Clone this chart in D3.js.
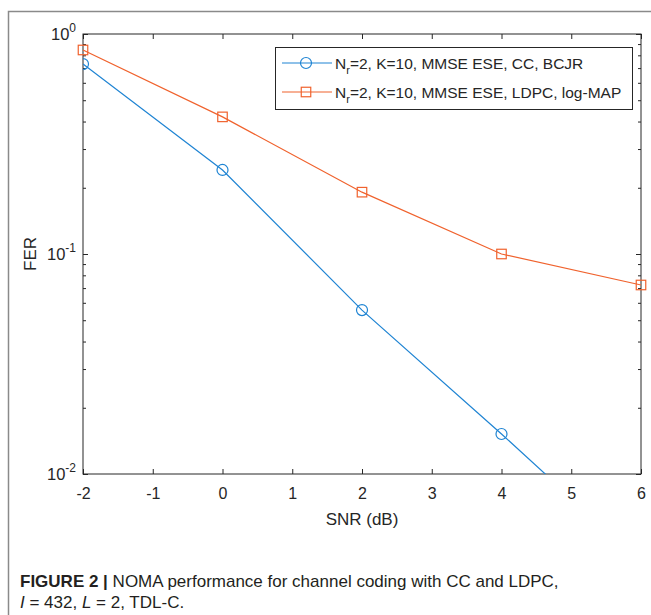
<!DOCTYPE html>
<html>
<head>
<meta charset="utf-8">
<script src="https://cdnjs.cloudflare.com/ajax/libs/d3/7.8.5/d3.min.js"></script>
<style>
  body { margin: 0; background: #fff; }
  svg { display: block; font-family: "Liberation Sans", Arial, sans-serif; }
</style>
</head>
<body>
<div id="chart"></div>
<script>
// data
var snr = [-2, 0, 2, 4, 6];
var ferCC = [0.73, 0.241, 0.0556, 0.0152, 0.004];
var ferLDPC = [0.846, 0.42, 0.191, 0.1, 0.0723];
var xTicks = [-2, -1, 0, 1, 2, 3, 4, 5, 6];
var yTicks = [0.01, 0.1, 1];
var yExp = [-2, -1, 0];
var legendNames = [
  ["N", "r", "=2, K=10, MMSE ESE, CC, BCJR"],
  ["N", "r", "=2, K=10, MMSE ESE, LDPC, log-MAP"]
];
var colors = ["#1f84d3", "#f0622d"];

var W = 651, H = 615;
var svg = d3.select("#chart").append("svg")
    .attr("width", W)
    .attr("height", H);

// outer frame (only top and left edges show)
svg.append("path")
    .attr("d", "M8.5," + H + "V11.5H" + W)
    .attr("fill", "none")
    .attr("stroke", "#8a8a8a")
    .attr("stroke-width", 1.5);

var pL = 83, pR = 641, pT = 34, pB = 474;
var x = d3.scaleLinear().domain([-2, 6]).range([pL, pR]);
var y = d3.scaleLog().domain([0.01, 1]).range([pB, pT]);

var axisColor = "#262626";

// x axes (ticks inward)
var gx = svg.append("g")
    .attr("transform", "translate(0," + pB + ")")
    .call(d3.axisBottom(x).tickValues(xTicks).tickSizeInner(-5).tickSizeOuter(0).tickPadding(14));
var gxTop = svg.append("g")
    .attr("transform", "translate(0," + pT + ")")
    .call(d3.axisTop(x).tickValues(xTicks).tickSizeInner(-5).tickSizeOuter(0).tickFormat(""));

// minor y ticks
var minor = [];
[0.01, 0.1].forEach(function(d) {
  for (var k = 2; k <= 9; k++) minor.push(d * k);
});

var gy = svg.append("g")
    .attr("transform", "translate(" + pL + ",0)")
    .call(d3.axisLeft(y).tickValues(yTicks).tickSizeInner(-5).tickSizeOuter(0).tickFormat(""));
var gyMinor = svg.append("g")
    .attr("transform", "translate(" + pL + ",0)")
    .call(d3.axisLeft(y).tickValues(minor).tickSizeInner(-3).tickSizeOuter(0).tickFormat(""));
var gyR = svg.append("g")
    .attr("transform", "translate(" + pR + ",0)")
    .call(d3.axisRight(y).tickValues(yTicks).tickSizeInner(-5).tickSizeOuter(0).tickFormat(""));
var gyRMinor = svg.append("g")
    .attr("transform", "translate(" + pR + ",0)")
    .call(d3.axisRight(y).tickValues(minor).tickSizeInner(-3).tickSizeOuter(0).tickFormat(""));

svg.selectAll(".domain").remove();
svg.selectAll(".tick line").attr("stroke", axisColor);

gx.attr("font-family", null);
gx.selectAll("text")
    .attr("font-size", 16)
    .attr("fill", axisColor)
    .attr("dy", "0.7em")
    .text(function(d) { return d; });

// y tick labels: 10 with superscript
yTicks.forEach(function(d, i) {
  var t = svg.append("text")
      .attr("x", pL - 7)
      .attr("y", y(d) + 6)
      .attr("text-anchor", "end")
      .attr("font-size", 16.5)
      .attr("fill", axisColor);
  t.append("tspan").text("10");
  t.append("tspan").attr("dy", -8).attr("font-size", 12).text(yExp[i]);
});

// box
svg.append("rect")
    .attr("x", pL).attr("y", pT)
    .attr("width", pR - pL).attr("height", pB - pT)
    .attr("fill", "none")
    .attr("stroke", axisColor)
    .attr("stroke-width", 1);

// axis labels
svg.append("text")
    .attr("x", (pL + pR) / 2)
    .attr("y", 525)
    .attr("text-anchor", "middle")
    .attr("font-size", 17)
    .attr("fill", axisColor)
    .text("SNR (dB)");
svg.append("text")
    .attr("transform", "translate(36," + (pT + pB) / 2 + ") rotate(-90)")
    .attr("text-anchor", "middle")
    .attr("font-size", 17)
    .attr("fill", axisColor)
    .text("FER");

// series
svg.append("clipPath").attr("id", "plot")
  .append("rect")
    .attr("x", pL).attr("y", pT)
    .attr("width", pR - pL).attr("height", pB - pT);

var plot = svg.append("g").attr("clip-path", "url(#plot)");
var line = d3.line()
    .x(function(d) { return x(d[0]); })
    .y(function(d) { return y(d[1]); });

var series = [d3.zip(snr, ferCC), d3.zip(snr, ferLDPC)];

plot.append("path")
    .datum(series[0])
    .attr("d", line)
    .attr("fill", "none")
    .attr("stroke", colors[0])
    .attr("stroke-width", 1.2);
plot.selectAll(".cc")
    .data(series[0].filter(function(d) { return d[1] >= 0.01; }))
    .enter().append("circle")
    .attr("cx", function(d) { return x(d[0]); })
    .attr("cy", function(d) { return y(d[1]); })
    .attr("r", 5.5)
    .attr("fill", "none")
    .attr("stroke", colors[0])
    .attr("stroke-width", 1.2);

var sq = 9.5;
svg.append("path")
    .datum(series[1])
    .attr("d", line)
    .attr("fill", "none")
    .attr("stroke", colors[1])
    .attr("stroke-width", 1.2);
svg.selectAll(".ldpc")
    .data(series[1])
    .enter().append("rect")
    .attr("x", function(d) { return x(d[0]) - sq / 2; })
    .attr("y", function(d) { return y(d[1]) - sq / 2; })
    .attr("width", sq).attr("height", sq)
    .attr("fill", "none")
    .attr("stroke", colors[1])
    .attr("stroke-width", 1.2);

// legend
var lg = svg.append("g");
lg.append("rect")
    .attr("x", 275.5).attr("y", 47.5)
    .attr("width", 357).attr("height", 62)
    .attr("fill", "#fff")
    .attr("stroke", axisColor)
    .attr("stroke-width", 1);
legendNames.forEach(function(n, i) {
  var ly = 63 + i * 29;
  lg.append("line")
      .attr("x1", 282).attr("x2", 332)
      .attr("y1", ly).attr("y2", ly)
      .attr("stroke", colors[i]).attr("stroke-width", 1.2);
  if (i === 0) {
    lg.append("circle").attr("cx", 306).attr("cy", ly).attr("r", 5.5)
        .attr("fill", "none").attr("stroke", colors[i]).attr("stroke-width", 1.2);
  } else {
    lg.append("rect").attr("x", 306 - sq / 2).attr("y", ly - sq / 2)
        .attr("width", sq).attr("height", sq)
        .attr("fill", "none").attr("stroke", colors[i]).attr("stroke-width", 1.2);
  }
  var t = lg.append("text")
      .attr("x", 335).attr("y", ly + 6)
      .attr("font-size", 15.5)
      .attr("fill", axisColor);
  t.append("tspan").text(n[0]);
  t.append("tspan").attr("dy", 5).attr("font-size", 11).text(n[1]);
  t.append("tspan").attr("dy", -5).text(n[2]);
});

// caption
var cap = svg.append("g")
    .attr("font-size", 17)
    .attr("fill", "#231f20");
var c1 = cap.append("text").attr("x", 20).attr("y", 587);
c1.append("tspan").attr("font-weight", "bold").text("FIGURE 2 | ");
c1.append("tspan").text("NOMA performance for channel coding with CC and LDPC,");
var c2 = cap.append("text").attr("x", 20).attr("y", 608);
c2.append("tspan").attr("font-style", "italic").text("I");
c2.append("tspan").text(" = 432, ");
c2.append("tspan").attr("font-style", "italic").text("L");
c2.append("tspan").text(" = 2, TDL-C.");
</script>
</body>
</html>
